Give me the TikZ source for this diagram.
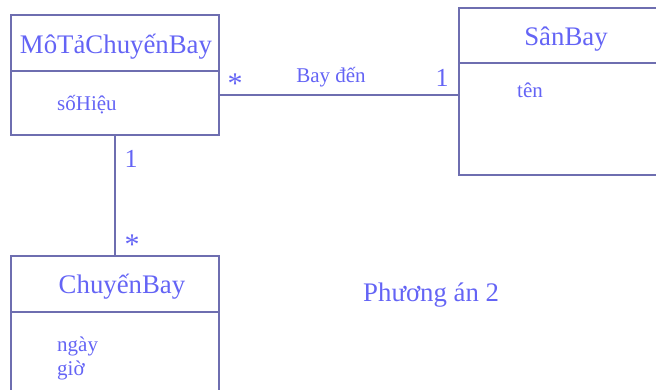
\documentclass[tikz,border=0pt]{standalone}
\usepackage{fontspec}
\setmainfont{Liberation Serif}
\definecolor{linec}{HTML}{6E6EB0}
\definecolor{textc}{HTML}{6464F5}
\tikzset{
  classbox/.style={draw=linec, line width=1.2pt, rectangle, inner sep=0pt},
  divider/.style={draw=linec, line width=1.2pt},
  conn/.style={draw=linec, line width=1.2pt},
  title/.style={text=textc, inner sep=0pt, anchor=base, font=\fontsize{26.8}{30}\selectfont},
  attr/.style={text=textc, inner sep=0pt, anchor=base west, font=\fontsize{21}{24}\selectfont},
  mult/.style={text=textc, inner sep=0pt, anchor=base, font=\fontsize{26}{30}\selectfont},
  star/.style={text=textc, inner sep=0pt, anchor=center, font=\fontsize{30}{34}\selectfont},
  lbl/.style={text=textc, inner sep=0pt, anchor=base, font=\fontsize{21}{24}\selectfont},
}
\begin{document}
\begin{tikzpicture}[x=1pt, y=-1pt]
\useasboundingbox (0,0) rectangle (656,389);
\clip (0,0) rectangle (656,389);
% boxes
\draw[classbox] (11,15) rectangle (219,135);
\draw[divider] (11,71) -- (219,71);
\draw[classbox] (459,8) rectangle (680,175);
\draw[divider] (459,63) -- (680,63);
\draw[classbox] (11,256) rectangle (219,400);
\draw[divider] (11,312) -- (219,312);
% connectors
\coordinate (mtR) at (219,95);
\coordinate (sbL) at (459,95);
\coordinate (mtB) at (115,135);
\coordinate (cbT) at (115,256);
\draw[conn] (mtR) -- (sbL);
\draw[conn] (mtB) -- (cbT);
% texts
\node[title] (t1) at (116,53) {MôTảChuyếnBay};
\node[attr] (a1) at (57,110) {sốHiệu};
\node[title] (t2) at (566,45) {SânBay};
\node[attr] (a2) at (517,97) {tên};
\node[title] (t3) at (122,293) {ChuyếnBay};
\node[attr] (a3) at (57,351) {ngày};
\node[attr] (a4) at (57,375) {giờ};
% multiplicities
\node[star] (s1) at (235,84) {*};
\node[lbl] (l1) at (331,82) {Bay đến};
\node[mult] (m1) at (442,86) {1};
\node[mult] (m2) at (131,167) {1};
\node[star] (s2) at (132,245) {*};
\node[title, anchor=base west] (cap) at (363,301) {Phương án 2};
\end{tikzpicture}
\end{document}
